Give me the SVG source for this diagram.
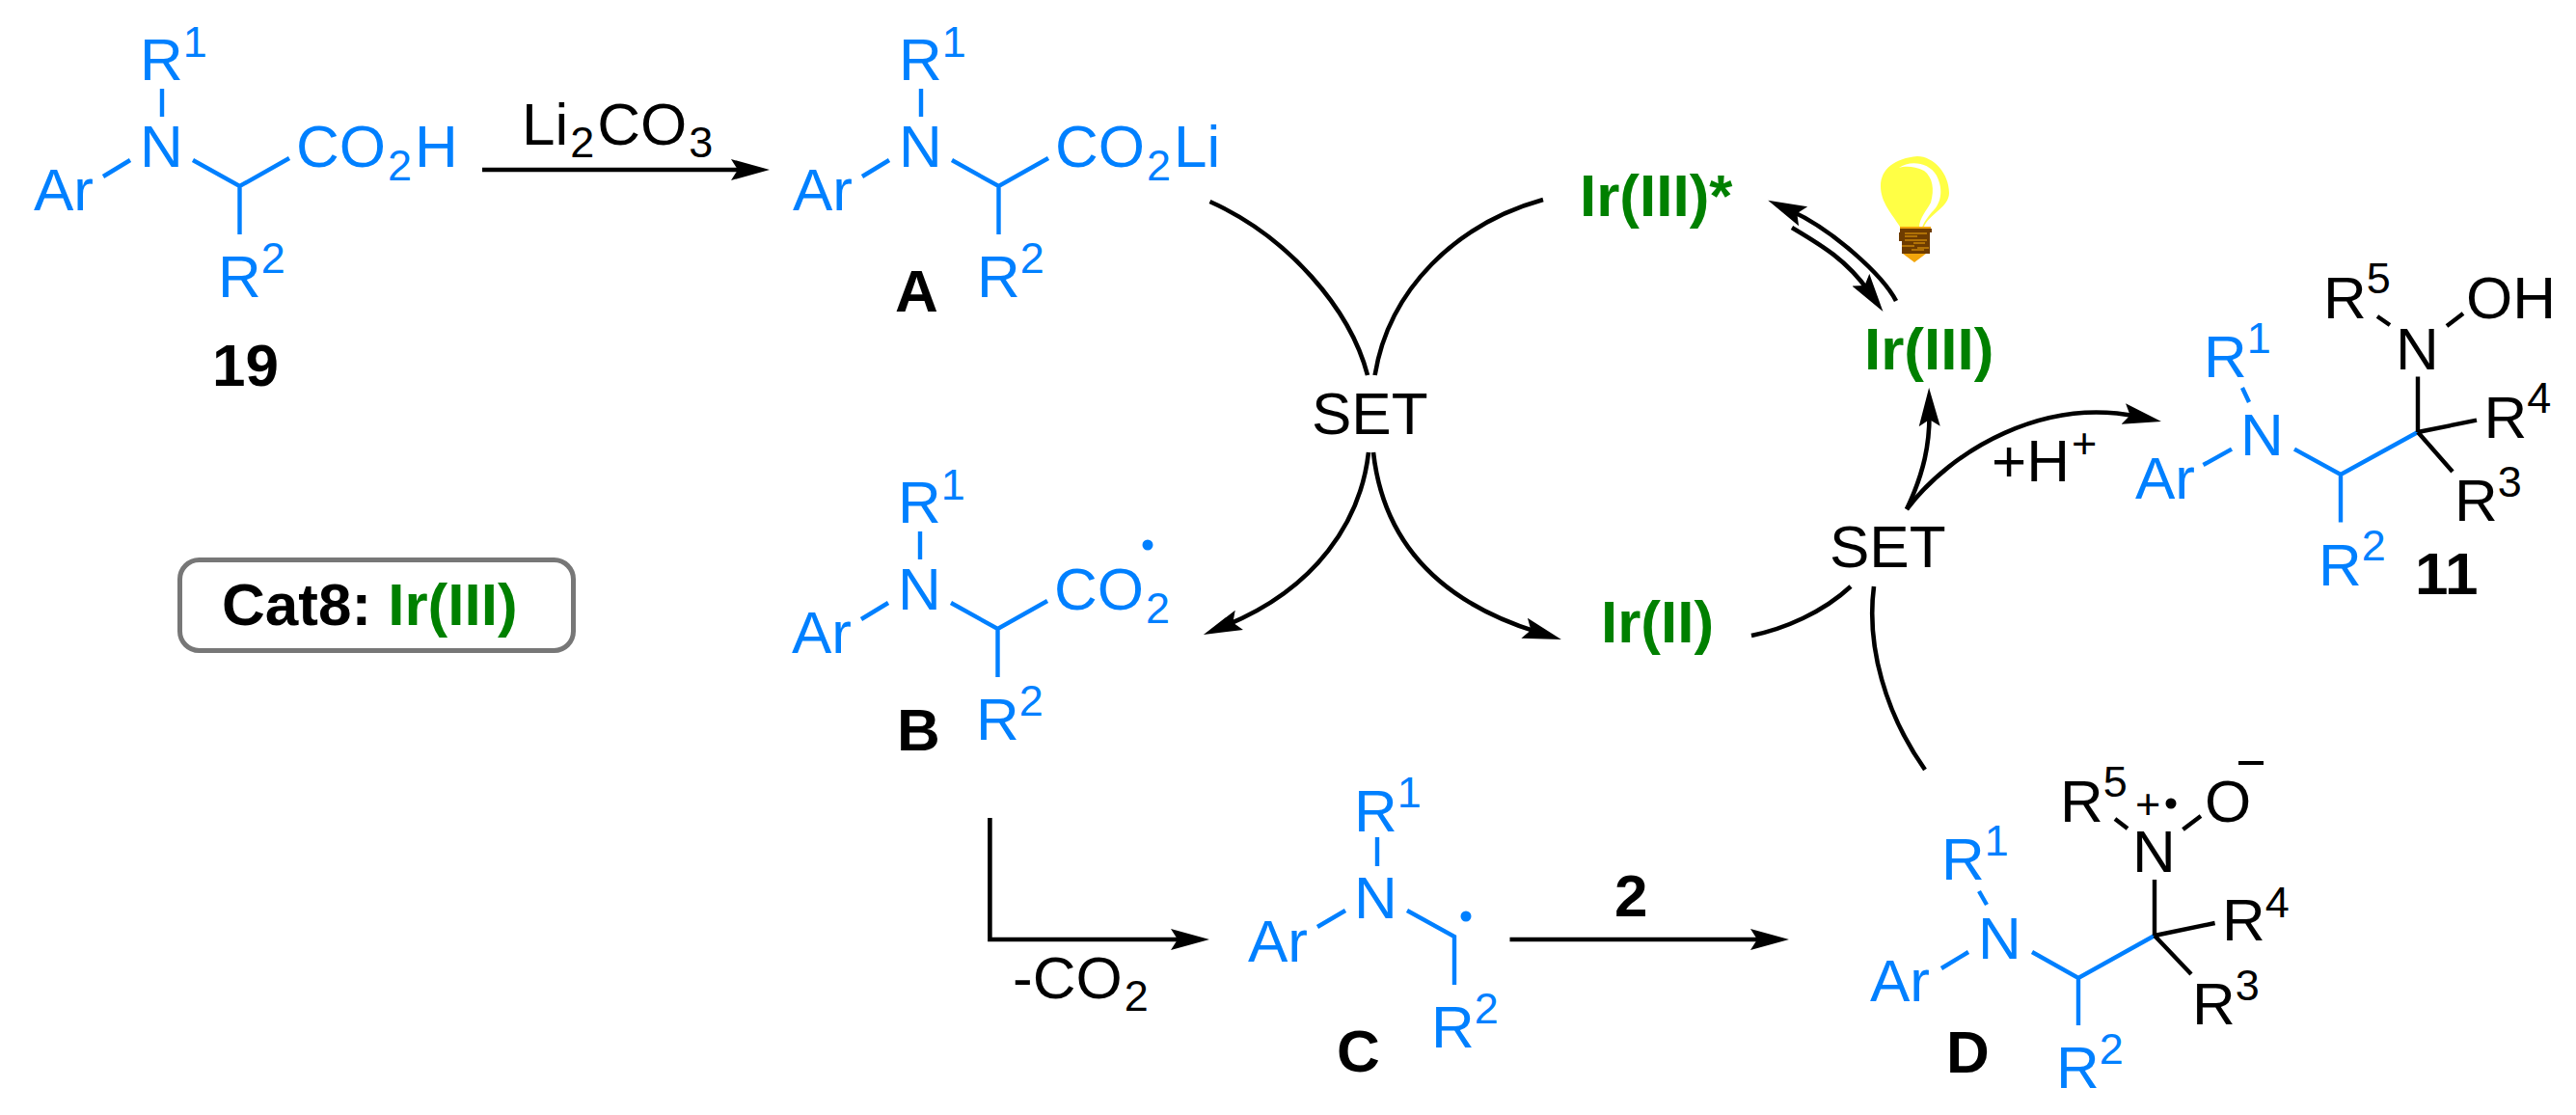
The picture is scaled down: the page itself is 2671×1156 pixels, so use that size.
<svg xmlns="http://www.w3.org/2000/svg" width="2671" height="1156" viewBox="0 0 2671 1156">
<style>
text{font-family:"Liberation Sans",Arial,sans-serif;font-size:62px;fill:#000}
.b{font-weight:bold}
.g{fill:#008000}
.u text{fill:#0080ff}
.s{font-size:45px}
.bl{fill:none;stroke:#0080ff;stroke-width:4.4}
.bk{fill:none;stroke:#000;stroke-width:4.4}
.c{fill:none;stroke:#000;stroke-width:4.6}
.a{marker-end:url(#head)}
.dot{fill:#0080ff}
</style>
<defs>
<marker id="head" markerUnits="userSpaceOnUse" markerWidth="42" markerHeight="24" viewBox="0 0 42 24" refX="15" refY="12" orient="auto"><path d="M0 1L40 12L0 23L7 12Z" fill="#000"/></marker>
</defs>
<rect width="2671" height="1156" fill="#fff"/>
<g id="connectors">
<path class="c a" d="M500 176H773"/>
<path class="c" d="M1254.5 209C1335 245 1400 320 1418 389"/>
<path class="c" d="M1600 207C1510 232 1440 300 1425.6 389"/>
<path class="c a" d="M1419 469C1411 540 1365 610 1271 648.5"/>
<path class="c a" d="M1424 469C1433 550 1480 620 1595 655.6"/>
<path class="c a" d="M1966 312C1952 285 1900 238 1856 218"/>
<path class="c a" d="M1858 236C1890 255 1915 270 1938 302.5"/>
<path class="c" d="M1816 659C1850 652 1890 635 1919 608"/>
<path class="c" d="M1943 608C1935 670 1955 740 1996 798"/>
<path class="c a" d="M1977 528C1995 490 2001 460 2000.5 427"/>
<path class="c a" d="M1977 528C2025 465 2120 412 2216.5 432"/>
<path class="c a" d="M1026.4 848V974H1229"/>
<path class="c a" d="M1565.5 974H1830"/>
</g>
<g id="label-li2co3"><text x="541" y="150">Li<tspan class="s" dy="13" dx="2">2</tspan><tspan dy="-13" dx="3">CO</tspan><tspan class="s" dy="13" dx="2">3</tspan></text></g>
<g id="label-co2"><text x="1050" y="1035">-CO<tspan class="s" dy="13" dx="2">2</tspan></text></g>
<g id="label-2"><text class="b" x="1674" y="950">2</text></g>
<g id="label-h"><text x="2065" y="499">+H<tspan class="s" dy="-24" dx="2">+</tspan></text></g>
<g id="set-1"><text x="1360" y="450">SET</text></g>
<g id="set-2"><text x="1897" y="588">SET</text></g>
<g id="ir3-star"><text class="b g" x="1638" y="224">Ir(III)*</text></g>
<g id="ir3"><text class="b g" x="1933" y="383">Ir(III)</text></g>
<g id="ir2"><text class="b g" x="1660" y="666">Ir(II)</text></g>
<g id="cat8">
<rect x="186.5" y="580.5" width="408" height="94" rx="20" fill="#fff" stroke="#777" stroke-width="5"/>
<text class="b" x="230" y="648">Cat8: <tspan class="g">Ir(III)</tspan></text>
</g>
<g id="bulb">
<path d="M1970 235C1962 222 1950 210 1950 193C1950 175 1965 164 1988 162C2005 162 2021 180 2021 200C2021 215 2000 222 1995 235Z" fill="#ffff45"/>
<path d="M1969 174C1980 166 2000 168 2008 182C2016 198 2012 212 2003 220C1998 226 1994 232 1993 236L1990 236C1990 226 1998 218 2002 210C2006 196 2004 184 1995 177C1985 172 1975 172 1969 174Z" fill="#fff"/>
<path d="M1970 235H2002V238H1970ZM1973 263H1997L1985 272Z" fill="#f2a60c"/>
<path d="M1970 237H2003V241H2001V263H1972V250H1969V241H1970Z" fill="#6e3c00"/>
<path d="M1975 242H1998M1975 245H1988M1975 249H1998M1984 252H1996M1972 255H1985M1988 257H2000M1982 259H1995" stroke="#f2a60c" stroke-width="1"/>
</g>
<g id="compound-19" class="u">
<text x="145" y="83">R<tspan class="s" dy="-24">1</tspan></text>
<text x="145" y="173">N</text>
<text x="35" y="218">Ar</text>
<text x="307" y="173">CO<tspan class="s" dy="14" dx="2">2</tspan><tspan dy="-14" dx="3">H</tspan></text>
<text x="226" y="308">R<tspan class="s" dy="-25">2</tspan></text>
<path class="bl" d="M168 92V121M107 183L135 166M200 166L248.500 193L300 164M248.500 193V243"/>
<text class="b" x="220" y="400" style="fill:#000">19</text>
</g>
<g id="compound-A" class="u" transform="translate(787 0)">
<text x="145" y="83">R<tspan class="s" dy="-24">1</tspan></text>
<text x="145" y="173">N</text>
<text x="35" y="218">Ar</text>
<text x="307" y="173">CO<tspan class="s" dy="14" dx="2">2</tspan><tspan dy="-14" dx="3">Li</tspan></text>
<text x="226" y="308">R<tspan class="s" dy="-25">2</tspan></text>
<path class="bl" d="M168 92V121M107 183L135 166M200 166L248.500 193L300 164M248.500 193V243"/>
<text class="b" x="141" y="323" style="fill:#000">A</text>
</g>
<g id="compound-B" class="u" transform="translate(786 459)">
<text x="145" y="83">R<tspan class="s" dy="-24">1</tspan></text>
<text x="145" y="173">N</text>
<text x="35" y="218">Ar</text>
<text x="307" y="173">CO<tspan class="s" dy="14" dx="2">2</tspan></text>
<text x="226" y="308">R<tspan class="s" dy="-25">2</tspan></text>
<path class="bl" d="M168 92V121M107 183L135 166M200 166L248.500 193L300 164M248.500 193V243"/>
<circle class="dot" cx="404" cy="106" r="5.500"/>
<text class="b" x="144" y="319" style="fill:#000">B</text>
</g>
<g id="compound-C" class="u">
<text x="1404" y="862">R<tspan class="s" dy="-25">1</tspan></text>
<text x="1404" y="952">N</text>
<text x="1294" y="997">Ar</text>
<text x="1484" y="1086">R<tspan class="s" dy="-25">2</tspan></text>
<path class="bl" d="M1428 868V898M1366 961L1395 944M1459 944L1508 971V1021"/>
<circle class="dot" cx="1520" cy="950" r="5.500"/>
<text class="b" x="1386" y="1111" style="fill:#000">C</text>
</g>
<g id="compound-D">
<g class="u">
<text x="2013" y="912">R<tspan class="s" dy="-25">1</tspan></text>
<text x="2051" y="994">N</text>
<text x="1939" y="1038">Ar</text>
<text x="2132" y="1128">R<tspan class="s" dy="-25">2</tspan></text>
</g>
<path class="bl" d="M2052 924L2060 938M2013 1004L2041 987M2107 987L2155 1014L2234 970M2155 1014V1063"/>
<path class="bk" d="M2234 970V912M2234 970L2296.600 957M2234 970L2272 1010M2193 849L2206 859M2263.500 860L2282 846"/>
<text x="2211" y="904">N</text>
<text x="2136" y="852">R<tspan class="s" dy="-26">5</tspan></text>
<text class="s" x="2214" y="849">+</text>
<circle cx="2251" cy="833" r="5.500"/>
<text x="2286" y="852">O</text>
<rect x="2321" y="789" width="26" height="4"/>
<text x="2304" y="975">R<tspan class="s" dy="-24">4</tspan></text>
<text x="2273" y="1062">R<tspan class="s" dy="-25">3</tspan></text>
<text class="b" x="2018" y="1112">D</text>
</g>
<g id="compound-11">
<g class="u">
<text x="2285" y="391">R<tspan class="s" dy="-25">1</tspan></text>
<text x="2323" y="472">N</text>
<text x="2214" y="517">Ar</text>
<text x="2404" y="607">R<tspan class="s" dy="-26">2</tspan></text>
</g>
<path class="bl" d="M2325 402L2332 417M2284.500 482L2314 465.600M2379 465.600L2427 492L2507 448M2427 492V541.500"/>
<path class="bk" d="M2507 448V390.500M2507 448L2568 435.600M2507 448L2543 489M2465 328L2478 337M2537 338L2554 325"/>
<text x="2484" y="382.600">N</text>
<text x="2409" y="330">R<tspan class="s" dy="-26">5</tspan></text>
<text x="2557" y="330">OH</text>
<text x="2575.500" y="454">R<tspan class="s" dy="-26">4</tspan></text>
<text x="2545" y="540">R<tspan class="s" dy="-25">3</tspan></text>
<text class="b" x="2504" y="616">11</text>
</g>
</svg>
